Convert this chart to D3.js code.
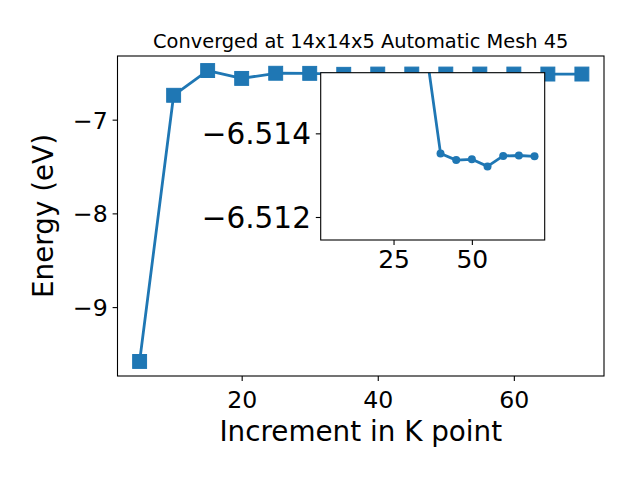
<!DOCTYPE html>
<html>
<head>
<meta charset="utf-8">
<script src="https://cdn.jsdelivr.net/npm/d3@7"></script>
<style>
  html, body { margin: 0; padding: 0; background: #fff; }
  text { font-family: "DejaVu Sans", sans-serif; fill: #000; }
</style>
</head>
<body>
<svg id="chart" width="640" height="480"></svg>
<script>
// ---- data ----
const kpoints = [5, 10, 15, 20, 25, 30, 35, 40, 45, 50, 55, 60, 65, 70];
const energy = [-9.58, -6.74, -6.476, -6.56, -6.505, -6.506, -6.5162,
                -6.51352, -6.51336, -6.51338, -6.51321, -6.51346, -6.51347, -6.51345];
const insetFromK = 35; // inset zooms on the converged tail
const mainXTicks = [20, 40, 60];
const mainYTicks = [-9, -8, -7];
const insetXTicks = [25, 50];
const insetYTicks = [-6.514, -6.512];
const insetYLimits = [-6.51145, -6.51545]; // [bottom, top] (inverted axis)
const titleText = "Converged at 14x14x5 Automatic Mesh 45";
const xLabel = "Increment in K point";
const yLabel = "Energy (eV)";

const color = "#1f77b4";
const data = kpoints.map((k, i) => ({ k, e: energy[i] }));
const insetData = data.filter(d => d.k >= insetFromK);

const svg = d3.select("#chart");

// ---- main axes ----
const M = { left: 117.5, right: 604, top: 56, bottom: 376 };
function padded(ext) {
  const r = ext[1] - ext[0];
  return [ext[0] - 0.05 * r, ext[1] + 0.05 * r];
}
const x = d3.scaleLinear().domain(padded(d3.extent(kpoints))).range([M.left, M.right]);
const y = d3.scaleLinear().domain(padded(d3.extent(energy))).range([M.bottom, M.top]);

svg.append("defs").append("clipPath").attr("id", "mainClip")
  .append("rect").attr("x", M.left).attr("y", M.top)
  .attr("width", M.right - M.left).attr("height", M.bottom - M.top);

const gMain = svg.append("g").attr("clip-path", "url(#mainClip)");
gMain.append("path").datum(data)
  .attr("fill", "none").attr("stroke", color).attr("stroke-width", 2.8)
  .attr("stroke-linejoin", "round")
  .attr("d", d3.line().x(d => x(d.k)).y(d => y(d.e)));
const sq = 13.9;
gMain.selectAll("rect.m").data(data).join("rect").attr("class", "m")
  .attr("x", d => x(d.k) - sq / 2).attr("y", d => y(d.e) - sq / 2)
  .attr("width", sq).attr("height", sq).attr("fill", color)
  .attr("stroke", color).attr("stroke-width", 1);

// axes with d3 axes
const tickFont = 23.6;
const xAxis = d3.axisBottom(x).tickValues(mainXTicks).tickSize(4.9).tickPadding(4.9).tickFormat(d3.format("d"));
const gx = svg.append("g").attr("transform", `translate(0,${M.bottom})`).call(xAxis);
const yAxis = d3.axisLeft(y).tickValues(mainYTicks).tickSize(4.9).tickPadding(4.9)
  .tickFormat(d => d3.format("d")(d).replace("-", "\u2212"));
const gy = svg.append("g").attr("transform", `translate(${M.left},0)`).call(yAxis);
[gx, gy].forEach(g => {
  g.select(".domain").remove();
  g.selectAll(".tick line").attr("stroke", "#000").attr("stroke-width", 1.1);
  g.selectAll(".tick text").attr("font-family", "DejaVu Sans").attr("font-size", tickFont).attr("fill", "#000");
});
gx.selectAll(".tick text").attr("dy", "0.92em");
gy.selectAll(".tick text").attr("dy", "0.36em");

svg.append("rect").attr("x", M.left).attr("y", M.top)
  .attr("width", M.right - M.left).attr("height", M.bottom - M.top)
  .attr("fill", "none").attr("stroke", "#000").attr("stroke-width", 1.1);

// title & labels
svg.append("text").attr("x", (M.left + M.right) / 2).attr("y", 47.5)
  .attr("text-anchor", "middle").attr("font-size", 19.4).text(titleText);
svg.append("text").attr("x", (M.left + M.right) / 2).attr("y", 440.5)
  .attr("text-anchor", "middle").attr("font-size", 27.8).text(xLabel);
svg.append("text")
  .attr("transform", `translate(53,${(M.top + M.bottom) / 2}) rotate(-90)`)
  .attr("text-anchor", "middle").attr("font-size", 27.8).text(yLabel);

// ---- inset axes ----
const I = { left: 320.7, right: 544.7, top: 72.7, bottom: 240 };
const xi = d3.scaleLinear().domain(padded(d3.extent(kpoints))).range([I.left, I.right]);
const yi = d3.scaleLinear().domain(insetYLimits).range([I.bottom, I.top]);

svg.append("rect").attr("x", I.left).attr("y", I.top)
  .attr("width", I.right - I.left).attr("height", I.bottom - I.top)
  .attr("fill", "#fff");

svg.select("defs").append("clipPath").attr("id", "insetClip")
  .append("rect").attr("x", I.left).attr("y", I.top)
  .attr("width", I.right - I.left).attr("height", I.bottom - I.top);

const gIn = svg.append("g").attr("clip-path", "url(#insetClip)");
gIn.append("path").datum(insetData)
  .attr("fill", "none").attr("stroke", color).attr("stroke-width", 2.8)
  .attr("stroke-linejoin", "round")
  .attr("d", d3.line().x(d => xi(d.k)).y(d => yi(d.e)));
gIn.selectAll("circle").data(insetData).join("circle")
  .attr("cx", d => xi(d.k)).attr("cy", d => yi(d.e)).attr("r", 4)
  .attr("fill", color);

const xiAxis = d3.axisBottom(xi).tickValues(insetXTicks).tickSize(4.9).tickPadding(4.9).tickFormat(d3.format("d"));
const gxi = svg.append("g").attr("transform", `translate(0,${I.bottom})`).call(xiAxis);
const yiAxis = d3.axisLeft(yi).tickValues(insetYTicks).tickSize(4.9).tickPadding(4.9)
  .tickFormat(d => d3.format(".3f")(d).replace("-", "\u2212"));
const gyi = svg.append("g").attr("transform", `translate(${I.left},0)`).call(yiAxis);
[gxi, gyi].forEach(g => {
  g.select(".domain").remove();
  g.selectAll(".tick line").attr("stroke", "#000").attr("stroke-width", 1.1);
  g.selectAll(".tick text").attr("font-family", "DejaVu Sans").attr("fill", "#000");
});
gxi.selectAll(".tick text").attr("font-size", 25).attr("dy", "0.71em");
gyi.selectAll(".tick text").attr("font-size", 29.5).attr("dy", "0.36em");

svg.append("rect").attr("x", I.left).attr("y", I.top)
  .attr("width", I.right - I.left).attr("height", I.bottom - I.top)
  .attr("fill", "none").attr("stroke", "#000").attr("stroke-width", 1.1);
</script>
</body>
</html>
